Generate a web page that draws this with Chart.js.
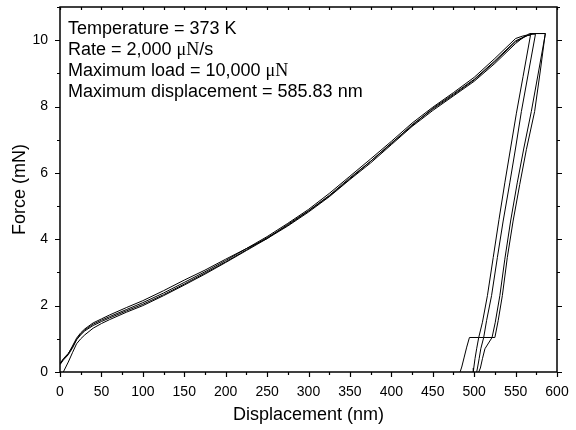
<!DOCTYPE html>
<html>
<head>
<meta charset="utf-8">
<script src="https://cdn.jsdelivr.net/npm/chart.js@4.4.1/dist/chart.umd.min.js"></script>
<style>
  html, body { margin: 0; padding: 0; background: #fff; }
  #wrap { width: 576px; height: 430px; }
</style>
</head>
<body>
<div id="wrap"><canvas id="chart" width="576" height="430"></canvas></div>
<script>
// loading segment, shared displacement points (nm)
const loadX = [0, 4, 10, 15, 20, 25, 30, 40, 50, 60, 80, 100, 125, 150, 175, 200, 225, 250, 275, 300, 325, 350, 375, 400, 425, 450, 475, 500, 525, 550];

// force (mN) of each of the four indents on the loading segment
const load1 = [0.25, 0.38, 0.55, 0.78, 1.02, 1.18, 1.3, 1.48, 1.6, 1.72, 1.94, 2.15, 2.45, 2.77, 3.07, 3.4, 3.72, 4.08, 4.48, 4.9, 5.38, 5.9, 6.42, 6.95, 7.5, 7.98, 8.42, 8.88, 9.45, 10.05];
const load2 = [0.25, 0.4, 0.56, 0.75, 0.98, 1.15, 1.27, 1.44, 1.56, 1.67, 1.88, 2.09, 2.38, 2.7, 3.02, 3.36, 3.72, 4.02, 4.45, 4.86, 5.32, 5.85, 6.35, 6.9, 7.42, 7.95, 8.38, 8.82, 9.38, 9.98];
const load3 = [0.22, 0.36, 0.52, 0.72, 0.97, 1.12, 1.24, 1.4, 1.52, 1.63, 1.84, 2.04, 2.33, 2.65, 2.98, 3.32, 3.68, 4.05, 4.42, 4.85, 5.3, 5.82, 6.35, 6.88, 7.45, 7.92, 8.35, 8.8, 9.35, 9.95];
const load4 = [null, 0, 0.3, 0.58, 0.85, 1.0, 1.12, 1.32, 1.46, 1.58, 1.8, 2.0, 2.3, 2.62, 2.95, 3.3, 3.66, 4.02, 4.4, 4.82, 5.28, 5.8, 6.3, 6.85, 7.4, 7.88, 8.32, 8.76, 9.3, 9.9];

// peak hold + unloading + 10% hold + final unloading
const tail1X = [558, 563, 568, 559, 551, 544, 537, 530, 523, 516, 510, 505.5, 494.3, 491, 488, 485, 483];
const tail1F = [10.12, 10.15, 10.15, 8.9, 7.8, 6.75, 5.7, 4.6, 3.45, 2.3, 1.5, 1.04, 1.04, 0.75, 0.45, 0.15, 0];
const tail2X = [562, 570, 574, 565, 557, 550, 543, 535, 528, 521, 515, 511.5, 505.5, 503, 501, 499.5, 499];
const tail2F = [10.12, 10.18, 10.18, 8.95, 7.85, 6.75, 5.7, 4.55, 3.45, 2.3, 1.55, 1.04, 1.04, 0.7, 0.4, 0.12, 0];
const tail3X = [565, 572, 586, 577, 569, 560, 552, 544, 537, 531, 525.5, 521.6, 511.5, 508, 506, 504, 503];
const tail3F = [10.15, 10.2, 10.2, 8.95, 7.85, 6.75, 5.7, 4.55, 3.4, 2.3, 1.5, 1.04, 1.04, 0.7, 0.4, 0.12, 0];
const tail4X = [560, 567, 585.8, 580, 573, 563, 555, 547, 540, 534, 529, 525, 521.6, 513, 510, 507.5, 505.5];
const tail4F = [10.1, 10.2, 10.2, 9.1, 7.85, 6.7, 5.65, 4.55, 3.45, 2.3, 1.55, 1.04, 1.04, 0.7, 0.4, 0.12, 0];

const xTickStep = 25;   // minor step, labels every 50
const yTickStep = 1;    // minor step, labels every 2

const infoLines = [
  [['Temperature = 373 K', 'sans']],
  [['Rate = 2,000 ', 'sans'], ['\u03BCN', 'serif'], ['/s', 'sans']],
  [['Maximum load = 10,000 ', 'sans'], ['\u03BCN', 'serif']],
  [['Maximum displacement = 585.83 nm', 'sans']]
];

const SANS = '"Liberation Sans", Arial, sans-serif';
const SERIF = '"Liberation Serif", "Times New Roman", serif';

function buildPoints(loadF, tailX, tailF) {
  const pts = [];
  loadX.forEach((x, i) => { if (loadF[i] !== null) pts.push({ x, y: loadF[i] }); });
  tailX.forEach((x, i) => pts.push({ x, y: tailF[i] }));
  return pts;
}

const curves = [
  buildPoints(load1, tail1X, tail1F),
  buildPoints(load2, tail2X, tail2F),
  buildPoints(load3, tail3X, tail3F),
  buildPoints(load4, tail4X, tail4F)
];

// frame + tick marks (minor/major), drawn from the chart's scales
const framePlugin = {
  id: 'frame',
  afterDraw(chart) {
    const { ctx, chartArea: a, scales: { x, y } } = chart;
    ctx.save();
    ctx.strokeStyle = '#000';
    ctx.lineWidth = 1.5;
    ctx.strokeRect(a.left, a.top, a.right - a.left, a.bottom - a.top);
    ctx.lineWidth = 1.2;
    ctx.beginPath();
    for (let v = x.min; v <= x.max + 0.001; v += xTickStep) {
      const px = Math.round(x.getPixelForValue(v)) + 0.5;
      const major = v % 50 === 0;
      ctx.moveTo(px, a.bottom); ctx.lineTo(px, a.bottom + (major ? 5 : 3));
      ctx.moveTo(px, a.top); ctx.lineTo(px, a.top + 3);
    }
    for (let v = y.min; v <= y.max + 0.001; v += yTickStep) {
      const py = Math.round(y.getPixelForValue(v)) + 0.5;
      const major = v % 2 === 0;
      ctx.moveTo(a.left, py); ctx.lineTo(a.left - (major ? 5 : 3), py);
      ctx.moveTo(a.right, py); ctx.lineTo(a.right + (major ? 5 : 3), py);
    }
    ctx.stroke();

    // info text
    ctx.fillStyle = '#000';
    ctx.textBaseline = 'alphabetic';
    infoLines.forEach((parts, i) => {
      let cx = 68;
      const by = 33.5 + i * 21.3;
      parts.forEach(([txt, kind]) => {
        ctx.font = kind === 'serif' ? '18px ' + SERIF : '18px ' + SANS;
        ctx.fillText(txt, cx, by);
        cx += ctx.measureText(txt).width;
      });
    });
    ctx.restore();
  }
};

new Chart(document.getElementById('chart'), {
  type: 'scatter',
  data: {
    datasets: curves.map(pts => ({
      data: pts,
      showLine: true,
      borderColor: '#000',
      borderWidth: 1,
      pointRadius: 0,
      tension: 0
    }))
  },
  options: {
    responsive: false,
    animation: false,
    layout: { padding: { top: 7, right: 19, left: 0, bottom: 0 } },
    plugins: { legend: { display: false }, tooltip: { enabled: false } },
    scales: {
      x: {
        type: 'linear', min: 0, max: 600,
        grid: { display: false, drawTicks: false },
        border: { display: false },
        ticks: {
          stepSize: xTickStep, autoSkip: false, maxRotation: 0, padding: 12,
          color: '#000', font: { family: SANS, size: 14 },
          callback: v => (v % 50 === 0 ? v : '')
        },
        title: {
          display: true, text: 'Displacement (nm)', color: '#000',
          font: { family: SANS, size: 18 }, padding: { top: 0, bottom: 4 }
        },
        afterFit: s => { s.height = 58; s.paddingLeft = 0; s.paddingRight = 0; }
      },
      y: {
        type: 'linear', min: 0, max: 11,
        grid: { display: false, drawTicks: false },
        border: { display: false },
        ticks: {
          stepSize: yTickStep, autoSkip: false, padding: 12,
          color: '#000', font: { family: SANS, size: 14 },
          callback: v => (v % 2 === 0 && v <= 10 ? v : '')
        },
        title: {
          display: true, text: 'Force (mN)', color: '#000',
          font: { family: SANS, size: 18 }, padding: { top: 9, bottom: 0 }
        },
        afterFit: s => { s.width = 60; s.paddingTop = 0; s.paddingBottom = 0; }
      }
    }
  },
  plugins: [framePlugin]
});
</script>
</body>
</html>
